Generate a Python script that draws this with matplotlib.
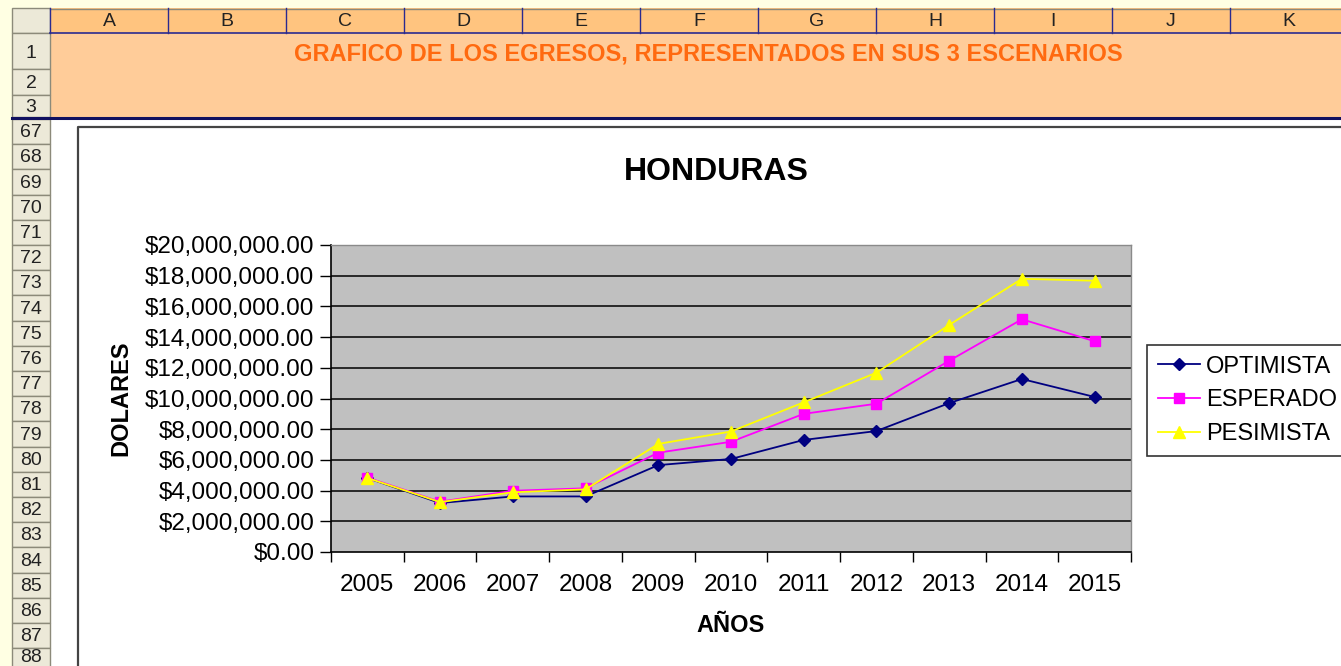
import matplotlib
matplotlib.use("Agg")
import matplotlib.pyplot as plt
from matplotlib.patches import Rectangle
from matplotlib.ticker import FuncFormatter, MultipleLocator
import numpy as np

plt.rcParams['font.family'] = ['Liberation Sans', 'DejaVu Sans']

# ---- data ----
years = ["2005", "2006", "2007", "2008", "2009", "2010", "2011", "2012", "2013", "2014", "2015"]
optimista = [4.82e6, 3.19e6, 3.62e6, 3.62e6, 5.66e6, 6.06e6, 7.30e6, 7.88e6, 9.70e6, 11.27e6, 10.10e6]
esperado  = [4.85e6, 3.28e6, 3.99e6, 4.15e6, 6.47e6, 7.18e6, 9.00e6, 9.66e6, 12.46e6, 15.16e6, 13.73e6]
pesimista = [4.82e6, 3.25e6, 3.89e6, 4.08e6, 7.04e6, 7.85e6, 9.75e6, 11.68e6, 14.79e6, 17.80e6, 17.67e6]
series_names = ["OPTIMISTA", "ESPERADO", "PESIMISTA"]
col_letters = ["A", "B", "C", "D", "E", "F", "G", "H", "I", "J", "K"]
row_numbers = list(range(67, 89))
sheet_title = "GRAFICO DE LOS EGRESOS, REPRESENTADOS EN SUS 3 ESCENARIOS"
chart_title = "HONDURAS"

W, H = 1341, 666
fig = plt.figure(figsize=(W / 100, H / 100), dpi=100)
fig.patch.set_facecolor("#FFFFE3")

# ---- spreadsheet background (pixel coordinates) ----
bg = fig.add_axes([0, 0, 1, 1])
bg.set_xlim(0, W)
bg.set_ylim(H, 0)
bg.axis("off")

cream = "#FFFFE3"
hdr_gray = "#ECE9D8"
col_orange = "#FFC47F"
peach = "#FFCC99"
navy = "#101060"

bg.add_patch(Rectangle((0, 0), W, H, color=cream, zorder=0))
# corner cell
bg.add_patch(Rectangle((12, 8), 38, 25, facecolor=hdr_gray, edgecolor="#8C8A7A", lw=1, zorder=1))
# column header row
bg.add_patch(Rectangle((50, 8), W - 50, 25, facecolor=col_orange, edgecolor="none", zorder=1))
bg.plot([50, W], [8.5, 8.5], color="#8C8A7A", lw=1, zorder=2)
bg.plot([50, W], [33, 33], color="#2A2A90", lw=1.2, zorder=2)
col_w = 118
for i, c in enumerate(col_letters):
    x0 = 50 + i * col_w
    bg.plot([x0, x0], [8, 33], color="#2A2A90", lw=1.0, zorder=2)
    bg.text(x0 + col_w / 2, 21, c, ha="center", va="center", fontsize=14, color="#222222", zorder=3)
# rows 1-3 peach
bg.add_patch(Rectangle((50, 33), W - 50, 84, facecolor=peach, edgecolor="none", zorder=1))
row_tops = [33, 69, 95, 117]
for k in range(3):
    bg.add_patch(Rectangle((12, row_tops[k]), 38, row_tops[k + 1] - row_tops[k],
                           facecolor=hdr_gray, edgecolor="#8C8A7A", lw=1, zorder=1))
    bg.text(31, (row_tops[k] + row_tops[k + 1]) / 2 + 2, str(k + 1), ha="center", va="center",
            fontsize=14, color="#222222", zorder=3)
bg.text(708, 54, sheet_title, ha="center", va="center", fontsize=17, fontweight="bold",
        color="#FF6A10", zorder=3)
# white area below freeze line
bg.add_patch(Rectangle((50, 119), W - 50, H - 119, facecolor="white", edgecolor="none", zorder=1))
# thick freeze-pane line
bg.plot([12, W], [118, 118], color=navy, lw=2.2, zorder=4)
# rows 67..88
rh = 25.2
for k, r in enumerate(row_numbers):
    y0 = 119 + k * rh
    bg.add_patch(Rectangle((12, y0), 38, rh, facecolor=hdr_gray, edgecolor="#8C8A7A", lw=1, zorder=1))
    yt = min(y0 + rh / 2 + 1, H - 8)
    bg.text(31, yt, str(r), ha="center", va="center", fontsize=14, color="#222222", zorder=3)
# chart border
bg.plot([78, 78, W + 5], [H + 5, 127, 127], color="#444444", lw=1.6, zorder=4)

# chart title and axis labels
bg.text(716, 172, chart_title, ha="center", va="center", fontsize=23, fontweight="bold", color="black", zorder=5)
bg.text(121, 398, "DOLARES", ha="center", va="center", rotation=90, fontsize=17, fontweight="bold",
        color="black", zorder=5)
bg.text(731, 626, "AÑOS", ha="center", va="center", fontsize=17, fontweight="bold", color="black", zorder=5)

# ---- chart axes ----
L, R, T, B = 331, 1131, 245, 552
ax = fig.add_axes([L / W, 1 - B / H, (R - L) / W, (B - T) / H])
ax.set_facecolor("#C0C0C0")
x = np.arange(len(years))
ax.set_xlim(-0.5, len(years) - 0.5)
ax.set_ylim(0, 20e6)
ax.yaxis.set_major_locator(MultipleLocator(2e6))
ax.yaxis.set_major_formatter(FuncFormatter(lambda v, p: f"${v:,.2f}"))
for yv in np.arange(2e6, 20e6, 2e6):
    ax.axhline(yv, color="black", lw=1.1, zorder=1)

ax.plot(x, optimista, color="#000080", lw=1.3, marker="D", markersize=6.5, label=series_names[0], zorder=3)
ax.plot(x, esperado, color="#FF00FF", lw=1.3, marker="s", markersize=7, label=series_names[1], zorder=4)
ax.plot(x, pesimista, color="#FFFF00", lw=1.3, marker="^", markersize=8.5, label=series_names[2], zorder=5)

ax.set_xticks(x)
ax.set_xticklabels(years)
ax.set_xticks(np.arange(-0.5, len(years), 1), minor=True)
ax.tick_params(axis="x", which="major", length=0, pad=16, labelsize=17.5)
ax.tick_params(axis="x", which="minor", length=7, width=1, color="black", direction="out")
ax.tick_params(axis="y", length=8, width=1, color="black", direction="out", pad=4, labelsize=17.5)
for s in ["top", "right"]:
    ax.spines[s].set_color("#8A8A8A")
    ax.spines[s].set_linewidth(1)
for s in ["left", "bottom"]:
    ax.spines[s].set_color("black")
    ax.spines[s].set_linewidth(1.2)

leg = ax.legend(loc="upper left", bbox_to_anchor=((1147 - L) / (R - L), 1 - (345 - T) / (B - T)),
                frameon=True, fancybox=False, fontsize=17, handlelength=1.8, handletextpad=0.25,
                borderpad=0.45, labelspacing=0.5, borderaxespad=0)
leg.get_frame().set_edgecolor("black")
leg.get_frame().set_linewidth(1.2)

fig.savefig("out.png", dpi=100)
